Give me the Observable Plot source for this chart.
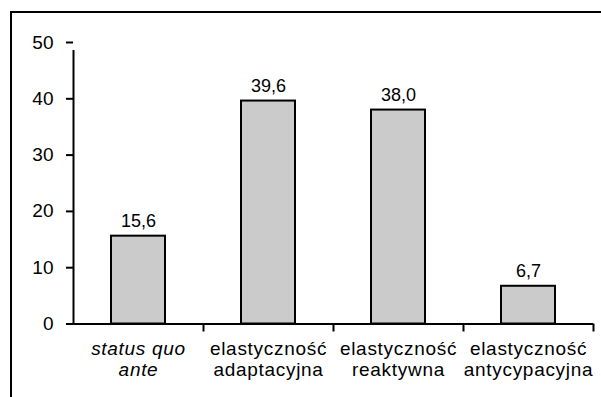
<!DOCTYPE html>
<html>
<head>
<meta charset="utf-8">
<script src="https://cdn.jsdelivr.net/npm/d3@7"></script>
<script src="https://cdn.jsdelivr.net/npm/@observablehq/plot@0.6"></script>
<style>
  html, body { margin: 0; padding: 0; background: white; }
  #wrap { position: relative; width: 601px; height: 397px; overflow: hidden; background: white; }
  #wrap svg { position: absolute; left: 0; top: 0; }
  #wrap svg text tspan { letter-spacing: 0.7px; }
  #frame { position: absolute; left: 10px; top: 11px; width: 700px; height: 500px; z-index: 2;
           border-left: 2px solid black; border-top: 2px solid black; box-sizing: border-box; pointer-events: none; }
</style>
</head>
<body>
<div id="wrap"><div id="frame"></div></div>
<script>
const categories = ["status quo ante", "elastyczność adaptacyjna", "elastyczność reaktywna", "elastyczność antycypacyjna"];
const categoryLabels = ["status quo\nante", "elastyczność\nadaptacyjna", "elastyczność\nreaktywna", "elastyczność\nantycypacyjna"];
const italicCategories = ["status quo ante"];
const values = [15.6, 39.6, 38.0, 6.7];
const yTicks = [0, 10, 20, 30, 40, 50];

const data = categories.map((c, i) => ({
  category: c,
  label: categoryLabels[i],
  value: values[i],
  valueText: values[i].toFixed(1).replace(".", ","),
  italic: italicCategories.includes(c)
}));

const font = "'Liberation Sans', Arial, sans-serif";

const chart = Plot.plot({
  width: 601,
  height: 397,
  marginLeft: 73,
  marginRight: 8,
  marginTop: 42,
  marginBottom: 73.5,
  style: { fontFamily: font, color: "black", background: "transparent", overflow: "visible" },
  x: { type: "band", domain: categories, paddingInner: 0, paddingOuter: 0, axis: null },
  y: { domain: [0, 50], axis: null },
  marks: [
    Plot.axisY({ ticks: yTicks, label: null, tickSize: 7, tickPadding: 13, fontSize: 19, stroke: "black", strokeWidth: 2, strokeOpacity: 1, fill: "black" }),
    Plot.barY(data, { x: "category", y: "value", fill: "#cbcbcb", stroke: "black", strokeWidth: 2, insetLeft: 38, insetRight: 38 }),
    Plot.ruleY([0], { stroke: "black", strokeWidth: 2 }),
    Plot.ruleX([categories[0]], { x: d => d, y1: 0, y2: 50, dx: -65, insetBottom: -8, stroke: "black", strokeWidth: 2 }),
    Plot.ruleX(categories.slice(1), { x: d => d, y1: 0, y2: 0, dx: -65, insetBottom: -8, stroke: "black", strokeWidth: 2 }),
    Plot.ruleX(categories.slice(-1), { x: d => d, y1: 0, y2: 0, dx: 65, insetBottom: -8, stroke: "black", strokeWidth: 2 }),
    Plot.text(data, { x: "category", y: "value", text: "valueText", lineAnchor: "bottom", dy: -9, fontSize: 18, fill: "black" }),
    Plot.text(data.filter(d => !d.italic), { x: "category", y: () => 0, text: "label", lineAnchor: "top", dy: 16, fontSize: 19, lineHeight: 1.12, fill: "black" }),
    Plot.text(data.filter(d => d.italic), { x: "category", y: () => 0, text: "label", lineAnchor: "top", dy: 16, fontSize: 19, lineHeight: 1.12, fontStyle: "italic", fill: "black" })
  ]
});

document.getElementById("wrap").insertBefore(chart, document.getElementById("frame"));
</script>
</body>
</html>
